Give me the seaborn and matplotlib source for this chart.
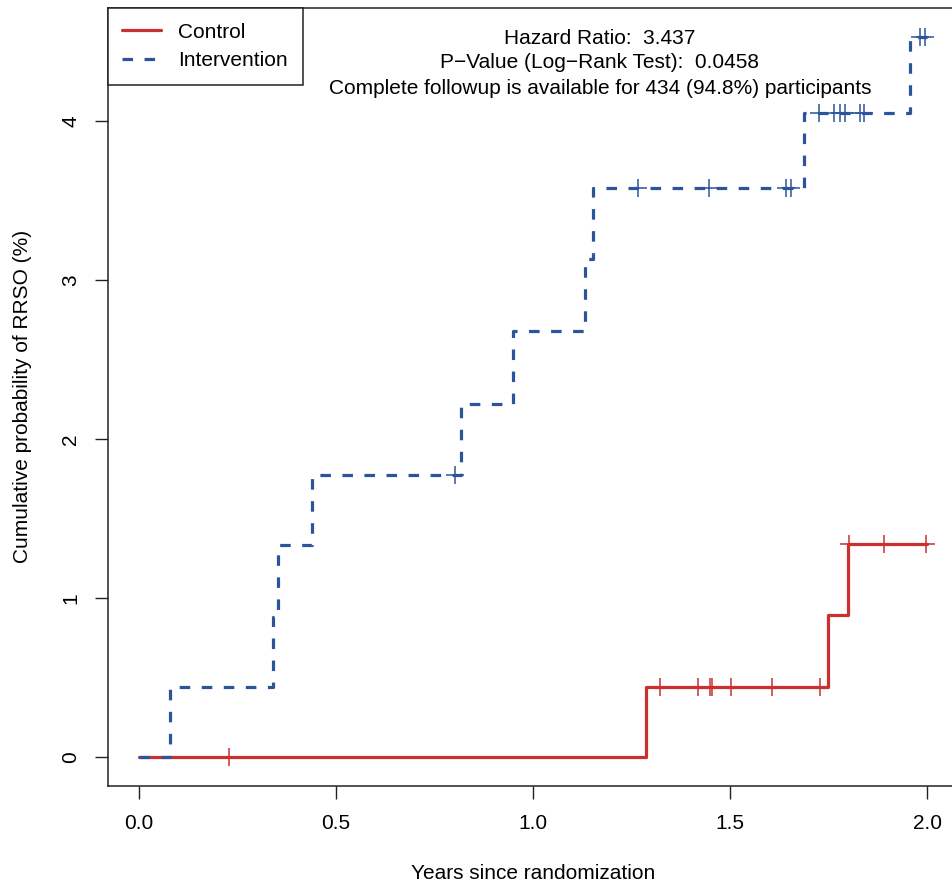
import numpy as np
import pandas as pd
import matplotlib
matplotlib.use("Agg")
import matplotlib.pyplot as plt
import seaborn as sns

# step curves (years, cumulative %)
ctrl_times = [0.0, 1.285, 1.747, 1.798, 2.0]
ctrl_vals = [0.0, 0.44, 0.89, 1.34, 1.34]
ctrl_censor = [0.229, 1.322, 1.419, 1.448, 1.453, 1.501, 1.606, 1.727, 1.80, 1.889, 1.997]

int_times = [0.0, 0.079, 0.34, 0.353, 0.439, 0.817, 0.948, 1.132, 1.152, 1.688, 1.955, 2.0]
int_vals = [0.0, 0.44, 0.88, 1.33, 1.77, 2.22, 2.68, 3.13, 3.58, 4.05, 4.53, 4.53]
int_censor = [0.801, 1.265, 1.447, 1.642, 1.655, 1.726, 1.764, 1.777, 1.792, 1.828, 1.838, 1.98, 1.995]

groups = ["Control", "Intervention"]
colors = {"Control": "#c9302f", "Intervention": "#2b559b"}

stats_lines = [
    "Hazard Ratio:  3.437",
    "P\u2212Value (Log\u2212Rank Test):  0.0458",
    "Complete followup is available for 434 (94.8%) participants",
]


def step_value(times, vals, t):
    i = np.searchsorted(times, t, side="right") - 1
    return np.asarray(vals)[i]


curves = pd.concat([
    pd.DataFrame({"time": ctrl_times, "cum": ctrl_vals, "group": "Control"}),
    pd.DataFrame({"time": int_times, "cum": int_vals, "group": "Intervention"}),
])
censors = pd.concat([
    pd.DataFrame({"time": ctrl_censor, "cum": step_value(ctrl_times, ctrl_vals, ctrl_censor), "group": "Control"}),
    pd.DataFrame({"time": int_censor, "cum": step_value(int_times, int_vals, int_censor), "group": "Intervention"}),
])

sns.set_style("ticks")
plt.rcParams["font.family"] = ["Liberation Sans", "DejaVu Sans"]
plt.rcParams["text.color"] = "black"
plt.rcParams["axes.labelcolor"] = "black"
plt.rcParams["xtick.labelcolor"] = "black"
plt.rcParams["ytick.labelcolor"] = "black"
fs = 15

fig = plt.figure(figsize=(9.52, 8.88), dpi=100)
ax = fig.add_axes([107.5 / 952, 1 - 785.5 / 888, (959 - 107.5) / 952, (785.5 - 8) / 888])

sns.lineplot(data=curves[curves.group == "Control"], x="time", y="cum", ax=ax,
             color=colors["Control"], lw=2.3, drawstyle="steps-post",
             estimator=None, sort=False, label="Control", zorder=2)
sns.lineplot(data=curves[curves.group == "Intervention"], x="time", y="cum", ax=ax,
             color=colors["Intervention"], lw=2.3, drawstyle="steps-post",
             estimator=None, sort=False, label="Intervention", dashes=False, zorder=3)
ax.lines[1].set_dashes((3.3, 3.6))

for g in groups:
    sub = censors[censors.group == g]
    sns.scatterplot(data=sub, x="time", y="cum", ax=ax, marker="+", s=160,
                    color=colors[g], linewidth=1.1, zorder=4, legend=False)

ax.set_xlim(-0.08, 2.08)
ax.set_ylim(-0.18, 4.71)
ax.set_xticks([0.0, 0.5, 1.0, 1.5, 2.0])
ax.set_xticklabels(["0.0", "0.5", "1.0", "1.5", "2.0"])
ax.set_yticks([0, 1, 2, 3, 4])
ax.set_yticklabels(["0", "1", "2", "3", "4"], rotation=90, va="center")
ax.tick_params(axis="both", length=9.5, width=1, color="#222222", labelsize=fs)
ax.tick_params(axis="x", pad=11)
ax.tick_params(axis="y", pad=10)
for s in ax.spines.values():
    s.set_linewidth(1.1)
    s.set_color("#222222")

ax.set_xlabel("Years since randomization", fontsize=fs, labelpad=22)
ax.set_ylabel("Cumulative probability of RRSO (%)", fontsize=fs, labelpad=21)

leg = ax.legend(loc="upper left", bbox_to_anchor=(0, 1), borderaxespad=0,
                fancybox=False, framealpha=1, edgecolor="#222222", fontsize=fs,
                handlelength=1.85, handletextpad=0.85, borderpad=0.7, labelspacing=0.45)
leg.get_frame().set_linewidth(1.1)

for i, line in enumerate(stats_lines):
    fig.text(600 / 952, 1 - (38 + 25 * i) / 888, line, ha="center", va="center", fontsize=fs)

fig.savefig("out.png", dpi=100)
